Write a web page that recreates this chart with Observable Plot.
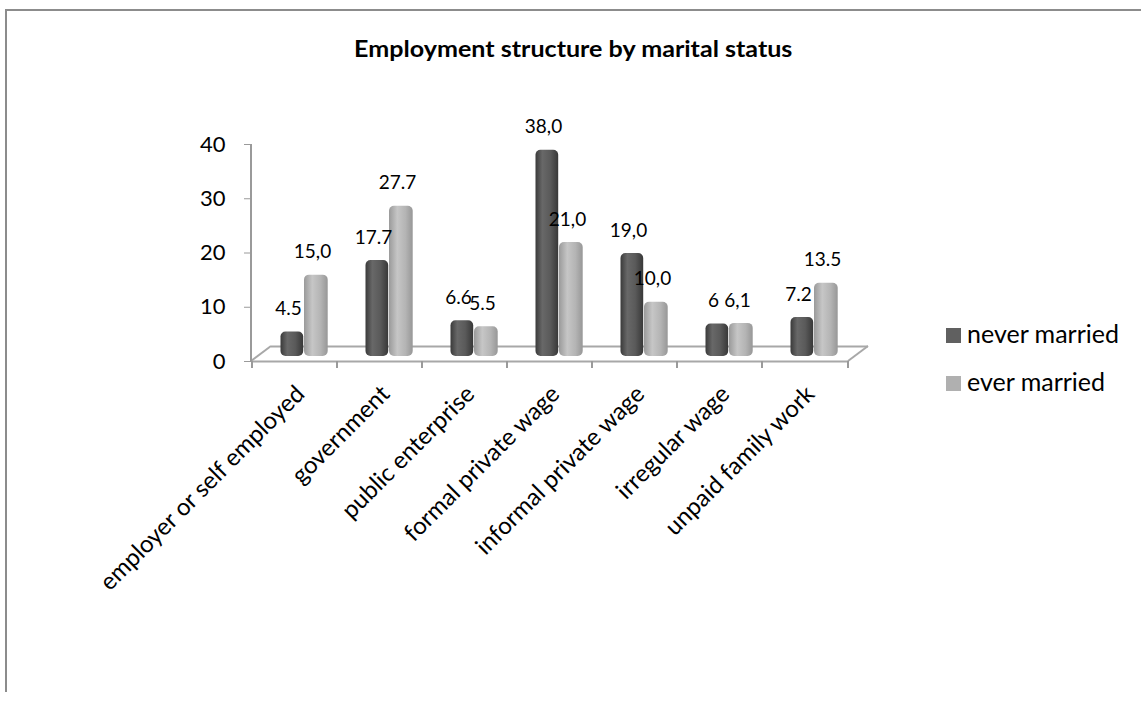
<!DOCTYPE html>
<html>
<head>
<meta charset="utf-8">
<script src="https://cdn.jsdelivr.net/npm/d3@7"></script>
<script src="https://cdn.jsdelivr.net/npm/@observablehq/plot@0.6"></script>
<style>
html, body { margin: 0; padding: 0; background: #fff; }
#wrap { position: relative; width: 1141px; height: 702px; overflow: hidden; font-family: Lato, "Open Sans", sans-serif; color: #000; }
#border { position: absolute; left: 5px; top: 9px; width: 1200px; height: 681px; border-top: 2px solid #8c8c8c; border-left: 2px solid #8c8c8c; }
#title { position: absolute; left: 6px; right: 0; top: 36px; text-align: center; font-weight: bold; font-size: 22px; line-height: 26px; }
#title span { display: inline-block; transform: scaleX(1.14); }
#chart { position: absolute; left: 0; top: 0; }
.sw { position: absolute; left: 946px; width: 15px; height: 15px; }
.lt { position: absolute; left: 967px; font-size: 25px; line-height: 25px; white-space: nowrap; }
</style>
</head>
<body>
<div id="wrap">
  <div id="border"></div>
  <div id="chart"></div>
  <div id="title"><span>Employment structure by marital status</span></div>
  <div class="sw" style="top:328px;background:#606060"></div>
  <div class="lt" style="top:321px">never married</div>
  <div class="sw" style="top:376px;background:#b0b0b0"></div>
  <div class="lt" style="top:369px">ever married</div>
</div>
<script>
const categories = ["employer or self employed", "government", "public enterprise", "formal private wage", "informal private wage", "irregular wage", "unpaid family work"];
const seriesNames = ["never married", "ever married"];
const neverMarried = [4.5, 17.7, 6.6, 38.0, 19.0, 6, 7.2];
const everMarried = [15.0, 27.7, 5.5, 21.0, 10.0, 6.1, 13.5];
const neverLabels = ["4.5", "17.7", "6.6", "38,0", "19,0", "6", "7.2"];
const everLabels = ["15,0", "27.7", "5.5", "21,0", "10,0", "6,1", "13.5"];
const yTicks = [0, 10, 20, 30, 40];

const rows = [];
categories.forEach((c, i) => {
  rows.push({cat: c, series: seriesNames[0], value: neverMarried[i], label: neverLabels[i]});
  rows.push({cat: c, series: seriesNames[1], value: everMarried[i], label: everLabels[i]});
});
const dark = rows.filter(d => d.series === seriesNames[0]);
const light = rows.filter(d => d.series === seriesNames[1]);

const plot = Plot.plot({
  width: 1141,
  height: 702,
  marginLeft: 251,
  marginRight: 293,
  marginTop: 144,
  marginBottom: 341,
  style: {fontFamily: "Lato, 'Open Sans', sans-serif", color: "#000", background: "transparent"},
  x: {type: "band", domain: categories, padding: 0, axis: null},
  y: {domain: [0, 40], axis: null},
  marks: [
    Plot.ruleY([0], {stroke: "#a8a8a8", strokeWidth: 2}),
    Plot.ruleY([0], {stroke: "#a8a8a8", strokeWidth: 2, dx: 20, dy: -15}),
    Plot.axisY({ticks: yTicks, tickSize: 7, tickPadding: 19, fontSize: 22, stroke: "#9a9a9a", fill: "#000", label: null}),
    Plot.barY(dark, {x: "cat", y: "value", fill: "url(#gDark)", insetLeft: 18.5, insetRight: 43.8, dx: 10, dy: -5, rx: 5}),
    Plot.barY(light, {x: "cat", y: "value", fill: "url(#gLight)", insetLeft: 42, insetRight: 19.3, dx: 10, dy: -5, rx: 5}),
    Plot.text(dark, {x: "cat", y: "value", text: "label", dx: -6.5, dy: -28, fontSize: 19, fill: "#000"}),
    Plot.text(light, {x: "cat", y: "value", text: "label", dx: 17.5, dy: -28, fontSize: 19, fill: "#000"}),
    Plot.text(categories, {x: d => d, frameAnchor: "bottom", text: d => d, rotate: -45, textAnchor: "end", dx: 11, dy: 34, fontSize: 24, fill: "#000"})
  ]
});
document.getElementById("chart").appendChild(plot);

// gradients for cylinder look + floor sides, axis line and category boundary ticks from the plot's scales
const svg = d3.select(plot);
svg.insert("defs", ":first-child").html(`
  <linearGradient id="gDark" x1="0" x2="1" y1="0" y2="0">
    <stop offset="0" stop-color="#3a3a3a"/>
    <stop offset="0.3" stop-color="#686868"/>
    <stop offset="0.65" stop-color="#5a5a5a"/>
    <stop offset="1" stop-color="#383838"/>
  </linearGradient>
  <linearGradient id="gLight" x1="0" x2="1" y1="0" y2="0">
    <stop offset="0" stop-color="#9a9a9a"/>
    <stop offset="0.35" stop-color="#c6c6c6"/>
    <stop offset="0.7" stop-color="#b4b4b4"/>
    <stop offset="1" stop-color="#979797"/>
  </linearGradient>`);
const xs = plot.scale("x"), ys = plot.scale("y");
const [xa, xb] = xs.range;
const y0 = ys.apply(0), yTop = ys.apply(40);
const g = svg.append("g").attr("stroke", "#a8a8a8").attr("stroke-width", 2).attr("fill", "none");
g.append("line").attr("x1", xa).attr("y1", y0).attr("x2", xa + 20).attr("y2", y0 - 15);
g.append("line").attr("x1", xb).attr("y1", y0).attr("x2", xb + 20).attr("y2", y0 - 15);
g.append("line").attr("x1", xa).attr("y1", yTop).attr("x2", xa).attr("y2", y0).attr("stroke", "#9a9a9a");
const edges = categories.map(c => xs.apply(c)).concat([xb]);
edges.forEach(x => g.append("line").attr("x1", x).attr("x2", x).attr("y1", y0).attr("y2", y0 + 7).attr("stroke", "#9a9a9a"));
</script>
</body>
</html>
